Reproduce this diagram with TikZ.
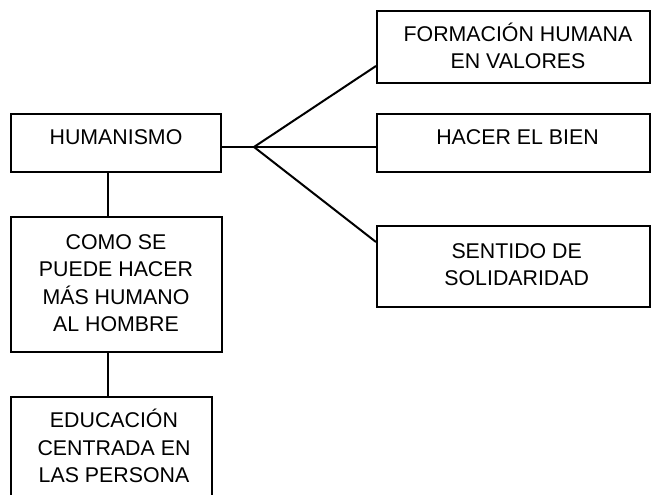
\documentclass[tikz,border=0pt]{standalone}
\usepackage{fontspec}
\setmainfont{Liberation Sans}
\usetikzlibrary{calc}
\begin{document}
\begin{tikzpicture}[x=0.75pt,y=-0.75pt,
  box/.style={draw=black,line width=1.5pt,rectangle,inner sep=0pt,fill=none},
  lbl/.style={font=\fontsize{16}{20.6}\selectfont,align=center,inner sep=0pt,anchor=base},
  conn/.style={draw=black,line width=1.5pt}]
\useasboundingbox (0,0) rectangle (651,495);
% boxes
\node[box,minimum width=157.5pt,minimum height=43.5pt] (hum) at (116,143) {};
\node[box,minimum width=204.75pt,minimum height=54pt] (form) at (513.5,47) {};
\node[box,minimum width=204.75pt,minimum height=43.5pt] (hacer) at (513.5,143) {};
\node[box,minimum width=204.75pt,minimum height=60.75pt] (sol) at (513.5,266.5) {};
\node[box,minimum width=158.25pt,minimum height=101.25pt] (como) at (116.5,284.5) {};
\node[box,minimum width=150.75pt,minimum height=81pt] (edu) at (111.5,451) {};
% texts (base anchor = last line's baseline)
\node[lbl] (humT) at (116,145) {HUMANISMO};
\node[lbl] (formT) at (518,69) {FORMACIÓN HUMANA\\EN VALORES};
\node[lbl] (hacerT) at (517.5,145) {HACER EL BIEN};
\node[lbl] (solT) at (516.7,286) {SENTIDO DE\\SOLIDARIDAD};
\node[lbl] (comoT) at (116,331.7) {COMO SE\\PUEDE HACER\\MÁS HUMANO\\AL HOMBRE};
\node[lbl] (eduT) at (114,482.7) {EDUCACIÓN\\CENTRADA EN\\LAS PERSONA};
% connectors
\coordinate (fan) at (254,147);
\draw[conn] ($(hum.east)+(0,4)$) -- (fan);
\draw[conn] (fan) -- ($(form.west)+(0,19)$);
\draw[conn] (fan) -- ($(hacer.west)+(0,4)$);
\draw[conn] (fan) -- ($(sol.west)+(0,-24.5)$);
\draw[conn] ($(hum.south)+(-8,0)$) -- ($(como.north)+(-8.5,0)$);
\draw[conn] ($(como.south)+(-8.5,0)$) -- ($(edu.north)+(-3.5,0)$);
\end{tikzpicture}
\end{document}
